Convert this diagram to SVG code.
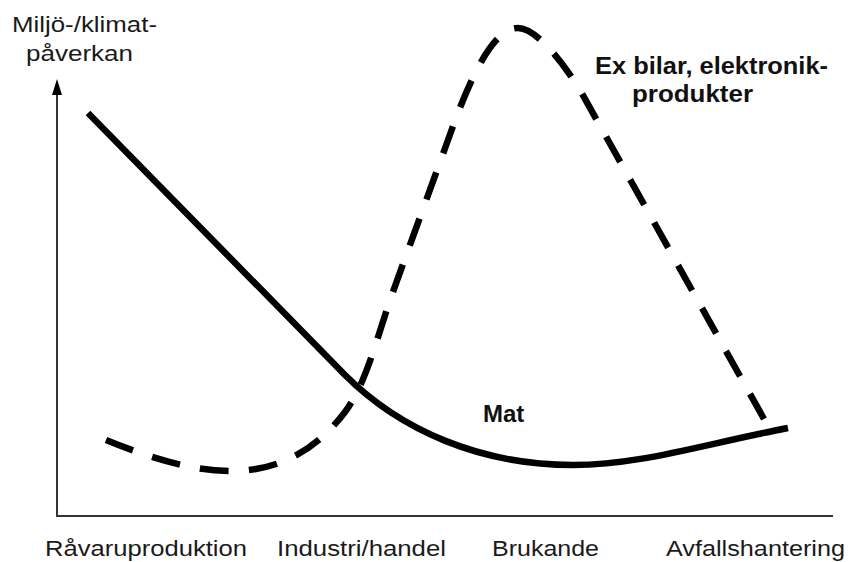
<svg xmlns="http://www.w3.org/2000/svg" width="848" height="562" viewBox="0 0 848 562">
<style>
.lbl{font-family:"Liberation Sans",Arial,sans-serif;font-size:22px;fill:#1a1a1a}
.b{font-weight:bold;font-size:24px;fill:#111}
.curve{fill:none;stroke:#000;stroke-width:6.5}
.dash{stroke-dasharray:24.9 17.5}
.axis{stroke:#333;stroke-width:2;fill:none}
</style>
<g id="axes">
<path class="axis" d="M57,92 V516 H833"/>
<polygon points="57,79 52,95 62,95" fill="#000"/>
</g>
<g id="connectors">
<path id="mat" class="curve" d="M88,113 L345,375 C400,430 480,465 573,465 C640,465 700,445 788,428"/>
<path id="ex" class="curve dash" pathLength="1000" d="M106,440 C150,458 195,472 235,471 C285,470 320,445 345,412 C365,385 375,345 390,300 L448,140 C465,92 490,28 518,28 C535,28 560,58 580,90 L764,419"/>
</g>
<g id="labels">
<text class="lbl" x="12" y="32" font-size="23" textLength="145" lengthAdjust="spacingAndGlyphs">Miljö-/klimat-</text>
<text class="lbl" x="26" y="61" font-size="23" textLength="107" lengthAdjust="spacingAndGlyphs">påverkan</text>
<text class="lbl b" x="595" y="74" textLength="233" lengthAdjust="spacingAndGlyphs">Ex bilar, elektronik-</text>
<text class="lbl b" x="632" y="102" textLength="121" lengthAdjust="spacingAndGlyphs">produkter</text>
<text class="lbl b" x="483" y="422" font-size="25">Mat</text>
<text class="lbl" x="45" y="556" textLength="202" lengthAdjust="spacingAndGlyphs">Råvaruproduktion</text>
<text class="lbl" x="277" y="556" textLength="169" lengthAdjust="spacingAndGlyphs">Industri/handel</text>
<text class="lbl" x="492" y="556" textLength="107" lengthAdjust="spacingAndGlyphs">Brukande</text>
<text class="lbl" x="666" y="556" textLength="179" lengthAdjust="spacingAndGlyphs">Avfallshantering</text>
</g>
</svg>
